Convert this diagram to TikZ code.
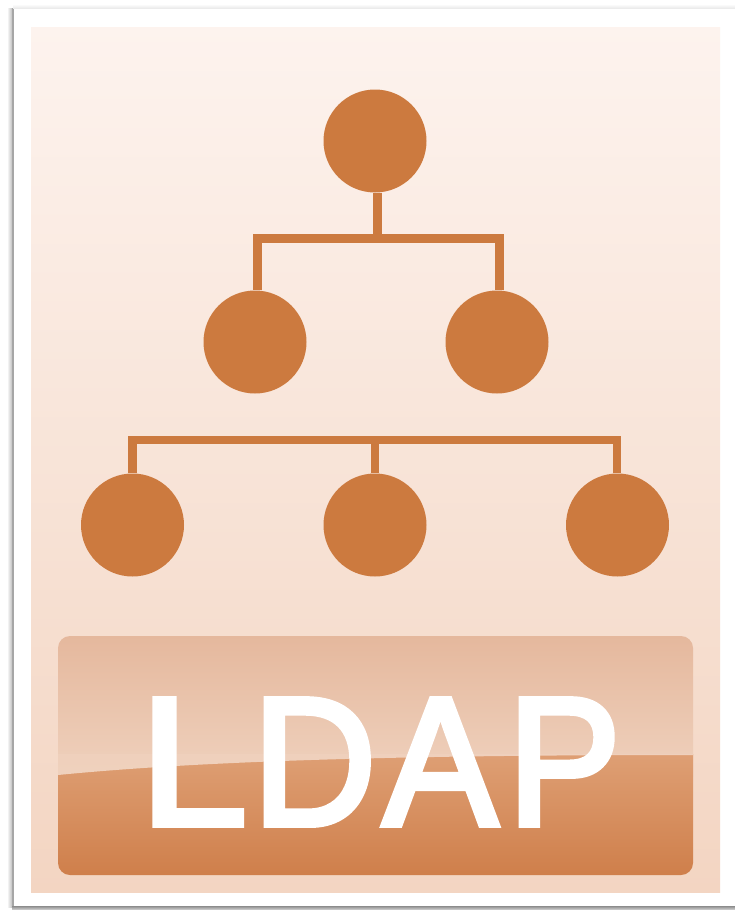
\documentclass[tikz,border=0pt]{standalone}
\usepackage{fontspec}
\usepackage{graphicx}
\setmainfont{Liberation Sans}
\newfontfamily\ldapfont[FakeBold=3.2]{Liberation Sans}
\definecolor{ink}{HTML}{CC7A3F}
\definecolor{pageTop}{HTML}{FDF3EE}
\definecolor{pageBot}{HTML}{F3D5C2}
\definecolor{glossTop}{HTML}{E5B89D}
\definecolor{glossBot}{HTML}{EFD1BD}
\definecolor{lowTop}{HTML}{DE9F74}
\definecolor{lowBot}{HTML}{CF7F4B}
\tikzset{
  dot/.style={circle,fill=ink,draw=none,minimum size=103pt,inner sep=0pt},
  bar/.style={draw=ink,line width=8.5pt,line cap=butt},
  caption/.style={inner sep=0pt,text=white,anchor=base west,font=\ldapfont\fontsize{183}{183}\selectfont}
}
\begin{document}
\begin{tikzpicture}[x=1pt,y=-1pt]
\useasboundingbox (0,0) rectangle (735,910);
\fill[white] (0,0) rectangle (735,910);
% frame shadow
\shade[left color=white,right color=black!25] (7,8) rectangle (12,907);
\fill[black!35] (12,8) rectangle (14,906);
\shade[top color=white,bottom color=black!8] (13,4) rectangle (735,8);
\shade[top color=black!45,bottom color=black!15] (12,906) rectangle (735,910);
% page
\shade[top color=pageTop,bottom color=pageBot] (31,27) rectangle (720,892);
% button
\begin{scope}
\clip[rounded corners=12pt] (58,636) rectangle (693,875);
\shade[top color=glossTop,bottom color=glossBot] (58,636) rectangle (693,776);
\shade[top color=lowTop,bottom color=lowBot] (58,754) rectangle (693,875);
\shade[top color=glossBot!96!glossTop,bottom color=glossBot] (58,754) -- (58,775) .. controls (200,761) and (400,755) .. (693,755) -- (693,754) -- cycle;
\end{scope}
% circles
\node[dot] (top) at (375,141) {};
\node[dot] (midL) at (255,342) {};
\node[dot] (midR) at (497,342) {};
\node[dot] (lowL) at (132.5,525) {};
\node[dot] (lowM) at (375,525) {};
\node[dot] (lowR) at (617.5,525) {};
% connectors
\coordinate (busAL) at (257.5,238.5);
\coordinate (busAR) at (499.5,238.5);
\coordinate (busAM) at (377.5,238.5);
\coordinate (busBL) at (132.5,440);
\coordinate (busBM) at (375,440);
\coordinate (busBR) at (617,440);
\draw[bar] ([xshift=-4.25pt]busAL) -- ([xshift=4.25pt]busAR);
\draw[bar] ([xshift=-4.25pt]busBL) -- ([xshift=4.25pt]busBR);
\draw[bar] (busAM) -- (busAM |- top.south);
\draw[bar] (busAL) -- (busAL |- midL.north);
\draw[bar] (busAR) -- (busAR |- midR.north);
\draw[bar] (busBL) -- (busBL |- lowL.north);
\draw[bar] (busBM) -- (lowM.north);
\draw[bar] (busBR) -- (busBR |- lowR.north);
% caption
\node[caption] (label) at (139.3,825) {\scalebox{1.06}[1]{L}\kern4.8pt\scalebox{.94}[1]{D}\kern6.5pt\scalebox{.94}[1]{A}\kern9.8pt\scalebox{.93}[1]{P}};
\end{tikzpicture}
\end{document}
